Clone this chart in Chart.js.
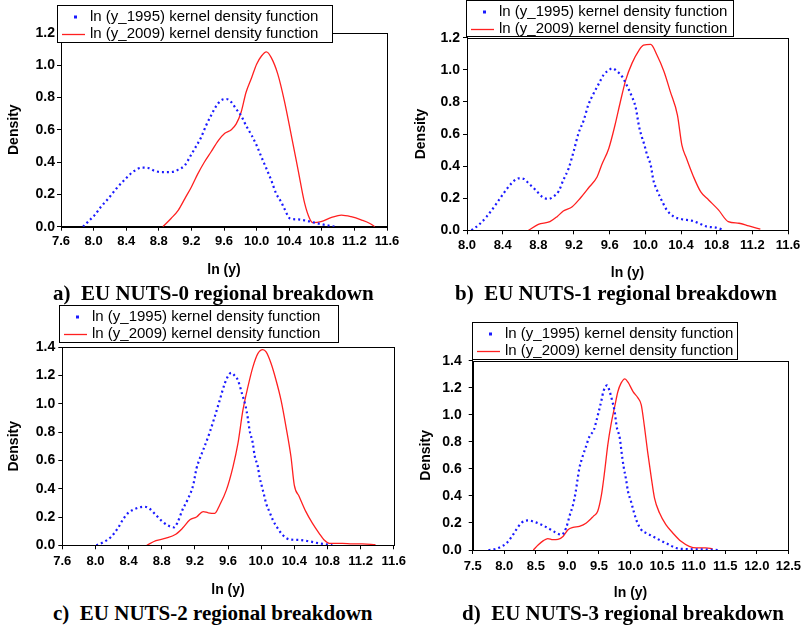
<!DOCTYPE html>
<html>
<head>
<meta charset="utf-8">
<script src="https://cdn.jsdelivr.net/npm/chart.js@4.4.1/dist/chart.umd.min.js"></script>
<style>
  body { margin: 0; background: #fff; width: 806px; height: 625px; position: relative; overflow: hidden; }
  canvas { position: absolute; }
  .cap { position: absolute; font: bold 21px "Liberation Serif", "Times New Roman", serif; white-space: pre; color: #000; line-height: 24px; }
</style>
</head>
<body>
<canvas id="cA"></canvas>
<canvas id="cB"></canvas>
<canvas id="cC"></canvas>
<canvas id="cD"></canvas>
<div class="cap" style="left:53px;top:281px">a)  EU NUTS-0 regional breakdown</div>
<div class="cap" style="left:455px;top:281px">b)  EU NUTS-1 regional breakdown</div>
<div class="cap" style="left:53px;top:601px">c)  EU NUTS-2 regional breakdown</div>
<div class="cap" style="left:462px;top:601px">d)  EU NUTS-3 regional breakdown</div>
<script>
// ---- data: [ln(y), density] ----
const label1995 = 'ln (y_1995) kernel density function';
const label2009 = 'ln (y_2009) kernel density function';

// a) NUTS-0
const nuts0_1995 = [[7.87,0],[7.93,0.03],[8.01,0.07],[8.09,0.123],[8.18,0.174],[8.28,0.236],[8.38,0.29],[8.48,0.338],[8.59,0.365],[8.67,0.363],[8.75,0.345],[8.85,0.338],[8.95,0.338],[9.04,0.353],[9.12,0.38],[9.18,0.43],[9.24,0.482],[9.32,0.554],[9.38,0.626],[9.44,0.687],[9.50,0.743],[9.56,0.78],[9.63,0.79],[9.69,0.77],[9.75,0.728],[9.81,0.687],[9.87,0.626],[9.94,0.564],[10.0,0.503],[10.06,0.43],[10.12,0.36],[10.18,0.287],[10.24,0.205],[10.30,0.154],[10.34,0.113],[10.41,0.051],[10.51,0.045],[10.61,0.037],[10.71,0.025],[10.81,0.014],[10.96,0]];
const nuts0_2009 = [[8.85,0],[8.95,0.051],[9.04,0.103],[9.12,0.174],[9.20,0.246],[9.28,0.328],[9.36,0.40],[9.44,0.462],[9.53,0.533],[9.61,0.578],[9.69,0.6],[9.75,0.636],[9.81,0.708],[9.87,0.83],[9.94,0.923],[10.0,1.005],[10.06,1.056],[10.12,1.081],[10.18,1.046],[10.26,0.944],[10.34,0.78],[10.43,0.554],[10.51,0.349],[10.59,0.144],[10.65,0.051],[10.69,0.025],[10.79,0.031],[10.92,0.057],[11.04,0.072],[11.16,0.062],[11.29,0.041],[11.39,0.02],[11.45,0]];

// b) NUTS-1
const nuts1_1995 = [[8.05,0],[8.13,0.033],[8.22,0.085],[8.32,0.158],[8.41,0.23],[8.50,0.293],[8.58,0.324],[8.64,0.32],[8.69,0.293],[8.77,0.251],[8.84,0.21],[8.91,0.195],[8.97,0.21],[9.03,0.245],[9.08,0.313],[9.14,0.386],[9.20,0.5],[9.25,0.604],[9.31,0.687],[9.36,0.78],[9.42,0.853],[9.48,0.915],[9.53,0.967],[9.59,0.998],[9.63,1.009],[9.68,0.992],[9.74,0.957],[9.79,0.905],[9.85,0.832],[9.89,0.77],[9.93,0.646],[9.96,0.583],[9.99,0.531],[10.02,0.469],[10.06,0.407],[10.09,0.313],[10.13,0.251],[10.19,0.179],[10.24,0.127],[10.32,0.085],[10.41,0.069],[10.52,0.06],[10.60,0.044],[10.69,0.023],[10.79,0.017],[10.88,0.002]];
const nuts1_2009 = [[8.69,0],[8.80,0.037],[8.93,0.054],[9.01,0.085],[9.08,0.12],[9.18,0.147],[9.27,0.2],[9.36,0.262],[9.46,0.334],[9.51,0.407],[9.59,0.51],[9.66,0.656],[9.72,0.801],[9.78,0.936],[9.85,1.04],[9.93,1.123],[9.98,1.154],[10.06,1.158],[10.13,1.092],[10.21,0.988],[10.28,0.864],[10.36,0.718],[10.41,0.53],[10.46,0.45],[10.54,0.334],[10.62,0.241],[10.71,0.189],[10.82,0.127],[10.93,0.054],[11.05,0.044],[11.16,0.027],[11.29,0.008]];

// c) NUTS-2
const nuts2_1995 = [[8.01,0],[8.09,0.02],[8.19,0.06],[8.27,0.12],[8.33,0.18],[8.39,0.226],[8.49,0.26],[8.59,0.273],[8.65,0.26],[8.73,0.214],[8.81,0.167],[8.89,0.136],[8.95,0.127],[8.99,0.16],[9.05,0.25],[9.11,0.32],[9.18,0.426],[9.22,0.544],[9.26,0.614],[9.30,0.673],[9.38,0.80],[9.44,0.91],[9.50,1.026],[9.56,1.143],[9.60,1.195],[9.64,1.22],[9.68,1.2],[9.72,1.167],[9.77,1.07],[9.81,0.99],[9.84,0.896],[9.86,0.814],[9.90,0.72],[9.92,0.638],[9.96,0.555],[9.98,0.485],[10.01,0.414],[10.04,0.344],[10.06,0.296],[10.10,0.238],[10.14,0.18],[10.20,0.12],[10.26,0.073],[10.34,0.042],[10.46,0.038],[10.58,0.028],[10.70,0.014],[10.80,0.005],[10.86,0]];
const nuts2_2009 = [[8.62,0],[8.73,0.033],[8.85,0.05],[8.97,0.078],[9.05,0.12],[9.14,0.18],[9.22,0.2],[9.30,0.238],[9.36,0.23],[9.44,0.226],[9.50,0.285],[9.58,0.39],[9.66,0.555],[9.72,0.72],[9.78,0.955],[9.84,1.12],[9.90,1.26],[9.96,1.355],[10.02,1.383],[10.06,1.367],[10.12,1.285],[10.18,1.167],[10.24,1.026],[10.30,0.838],[10.36,0.626],[10.40,0.426],[10.46,0.344],[10.54,0.238],[10.62,0.155],[10.70,0.085],[10.76,0.038],[10.82,0.014],[10.98,0.014],[11.10,0.01],[11.22,0.01],[11.38,0.005]];

// d) NUTS-3
const nuts3_1995 = [[7.75,0],[7.88,0.01],[7.96,0.027],[8.04,0.052],[8.12,0.1],[8.19,0.15],[8.27,0.2],[8.38,0.219],[8.48,0.207],[8.59,0.187],[8.69,0.163],[8.80,0.133],[8.91,0.113],[8.98,0.163],[9.04,0.261],[9.09,0.335],[9.13,0.426],[9.16,0.52],[9.19,0.606],[9.23,0.675],[9.29,0.759],[9.35,0.84],[9.42,0.889],[9.46,0.956],[9.50,1.03],[9.54,1.108],[9.57,1.172],[9.63,1.217],[9.67,1.172],[9.71,1.103],[9.75,1.02],[9.78,0.914],[9.83,0.828],[9.86,0.717],[9.89,0.618],[9.93,0.52],[9.96,0.433],[10.01,0.355],[10.05,0.286],[10.10,0.212],[10.17,0.15],[10.27,0.121],[10.38,0.094],[10.48,0.069],[10.59,0.044],[10.72,0.015],[10.88,0.007],[11.09,0.005],[11.25,0.002],[11.39,0]];
const nuts3_2009 = [[8.46,0],[8.54,0.039],[8.62,0.069],[8.69,0.084],[8.77,0.076],[8.85,0.079],[8.93,0.1],[9.01,0.15],[9.09,0.167],[9.19,0.175],[9.30,0.2],[9.41,0.249],[9.48,0.286],[9.54,0.409],[9.59,0.581],[9.64,0.778],[9.69,0.926],[9.75,1.062],[9.80,1.172],[9.85,1.234],[9.91,1.266],[9.96,1.241],[10.04,1.172],[10.12,1.123],[10.17,1.074],[10.22,0.914],[10.27,0.729],[10.33,0.532],[10.38,0.384],[10.46,0.273],[10.56,0.187],[10.67,0.126],[10.80,0.064],[10.93,0.027],[11.04,0.015],[11.19,0.015],[11.30,0.01]];

// tick labels
const xTicks76 = [7.6, 8.0, 8.4, 8.8, 9.2, 9.6, 10.0, 10.4, 10.8, 11.2, 11.6];
const xTicks80 = [8.0, 8.4, 8.8, 9.2, 9.6, 10.0, 10.4, 10.8, 11.2, 11.6];
const xTicks75 = [7.5, 8.0, 8.5, 9.0, 9.5, 10.0, 10.5, 11.0, 11.5, 12.0, 12.5];
const yTicks12 = [0, 0.2, 0.4, 0.6, 0.8, 1.0, 1.2];
const yTicks14 = [0, 0.2, 0.4, 0.6, 0.8, 1.0, 1.2, 1.4];

const BLUE = '#1a1aff';
const RED = '#ff2020';
const SANS = '"Liberation Sans", Arial, sans-serif';

// frame around the plot and the boxed legend
const frameLegend = {
  id: 'frameLegend',
  afterDraw(chart, args, o) {
    const ctx = chart.ctx;
    const a = chart.chartArea;
    ctx.save();
    ctx.strokeStyle = '#000';
    ctx.lineWidth = 1;
    ctx.strokeRect(Math.round(a.left) + 0.5, Math.round(a.top) + 0.5,
                   Math.round(a.right) - Math.round(a.left), Math.round(a.bottom) - Math.round(a.top));

    const L = o.box;
    const lx = Math.round(L.x - o.ox), ly = Math.round(L.y - o.oy);
    ctx.fillStyle = '#fff';
    ctx.fillRect(lx, ly, L.w, L.h);
    ctx.strokeRect(lx + 0.5, ly + 0.5, L.w, L.h);

    const r1 = ly + 11.5, r2 = ly + 29;
    // 1995 marker: a single dot
    ctx.fillStyle = BLUE;
    ctx.fillRect(lx + 17, r1 - 1, 3, 3);
    // 2009 marker: a short line
    ctx.strokeStyle = RED;
    ctx.lineWidth = 1.3;
    ctx.beginPath();
    ctx.moveTo(lx + 5, r2 + 0.5);
    ctx.lineTo(lx + 28, r2 + 0.5);
    ctx.stroke();

    ctx.fillStyle = '#000';
    ctx.font = '15px ' + SANS;
    ctx.textBaseline = 'middle';
    ctx.fillText(label1995, lx + 33, r1);
    ctx.fillText(label2009, lx + 33, r2);
    ctx.restore();
  }
};

function toPts(arr) {
  return arr.map(p => ({ x: p[0], y: p[1] }));
}

function makePanel(p) {
  const cv = document.getElementById(p.id);
  cv.width = p.cw;
  cv.height = p.ch;
  cv.style.left = p.cx + 'px';
  cv.style.top = p.cy + 'px';

  const half = 8.4; // half line height of 14px title
  const padL = p.yTitleX - p.cx - half;
  const yw = p.area.l - p.cx - padL;
  const xh = p.xTitleY + half - p.area.b;

  const tickFont = { family: SANS, weight: 'bold', size: 13 };
  const titleFont = { family: SANS, weight: 'bold', size: 14 };

  new Chart(cv, {
    type: 'line',
    data: {
      datasets: [
        {
          label: label1995,
          data: toPts(p.d1995),
          borderColor: BLUE,
          borderWidth: 2.2,
          borderDash: [2, 3],
          pointRadius: 0,
          cubicInterpolationMode: 'monotone',
          fill: false
        },
        {
          label: label2009,
          data: toPts(p.d2009),
          borderColor: RED,
          borderWidth: 1.3,
          pointRadius: 0,
          cubicInterpolationMode: 'monotone',
          fill: false
        }
      ]
    },
    options: {
      responsive: false,
      animation: false,
      devicePixelRatio: 1,
      layout: {
        padding: {
          left: padL,
          top: p.area.t - p.cy,
          right: p.cx + p.cw - p.area.r,
          bottom: p.cy + p.ch - (p.area.b + xh)
        }
      },
      plugins: {
        legend: { display: false },
        tooltip: { enabled: false },
        frameLegend: { box: p.legend, ox: p.cx, oy: p.cy }
      },
      scales: {
        x: {
          type: 'linear',
          min: p.xTicks[0],
          max: p.xTicks[p.xTicks.length - 1],
          afterBuildTicks: s => { s.ticks = p.xTicks.map(v => ({ value: v })); },
          afterFit: s => { s.height = xh; },
          ticks: { callback: v => Number(v).toFixed(1), font: tickFont, color: '#000', padding: p.xPad, maxRotation: 0, autoSkip: false },
          grid: { drawOnChartArea: false, drawTicks: true, tickLength: 4, tickColor: '#000' },
          border: { display: true, color: '#000', width: 1 },
          title: { display: true, text: 'ln (y)', font: titleFont, color: '#000', padding: 0 }
        },
        y: {
          type: 'linear',
          min: 0,
          max: p.yTicks[p.yTicks.length - 1],
          afterBuildTicks: s => { s.ticks = p.yTicks.map(v => ({ value: v })); },
          afterFit: s => { s.width = yw; },
          ticks: { callback: v => Number(v).toFixed(1), font: { family: SANS, weight: 'bold', size: 14 }, color: '#000', padding: p.yPad },
          grid: { drawOnChartArea: false, drawTicks: true, tickLength: 4, tickColor: '#000' },
          border: { display: true, color: '#000', width: 1 },
          title: { display: true, text: 'Density', font: titleFont, color: '#000', padding: 0 }
        }
      }
    },
    plugins: [frameLegend]
  });
}

makePanel({
  id: 'cA', cx: 0, cy: 0, cw: 410, ch: 285,
  area: { l: 61, t: 32.7, r: 387, b: 226.7 },
  xTitleY: 270, yTitleX: 14, xPad: 3, yPad: 2,
  xTicks: xTicks76, yTicks: yTicks12,
  legend: { x: 57, y: 5, w: 275, h: 37 },
  d1995: nuts0_1995, d2009: nuts0_2009
});
makePanel({
  id: 'cB', cx: 400, cy: 0, cw: 406, ch: 285,
  area: { l: 467, t: 37.7, r: 788, b: 230.3 },
  xTitleY: 273, yTitleX: 420.7, xPad: 3, yPad: 3,
  xTicks: xTicks80, yTicks: yTicks12,
  legend: { x: 466, y: 0, w: 267, h: 36 },
  d1995: nuts1_1995, d2009: nuts1_2009
});
makePanel({
  id: 'cC', cx: 0, cy: 300, cw: 410, ch: 300,
  area: { l: 62.3, t: 347.3, r: 394.3, b: 545.3 },
  xTitleY: 590, yTitleX: 14, xPad: 4, yPad: 3,
  xTicks: xTicks76, yTicks: yTicks14,
  legend: { x: 59, y: 305, w: 279, h: 37 },
  d1995: nuts2_1995, d2009: nuts2_2009
});
makePanel({
  id: 'cD', cx: 400, cy: 300, cw: 406, ch: 305,
  area: { l: 472.7, t: 360.7, r: 790, b: 550 },
  xTitleY: 593, yTitleX: 426, xPad: 5, yPad: 7,
  xTicks: xTicks75, yTicks: yTicks14,
  legend: { x: 472, y: 322, w: 265, h: 37 },
  d1995: nuts3_1995, d2009: nuts3_2009
});
</script>
</body>
</html>
